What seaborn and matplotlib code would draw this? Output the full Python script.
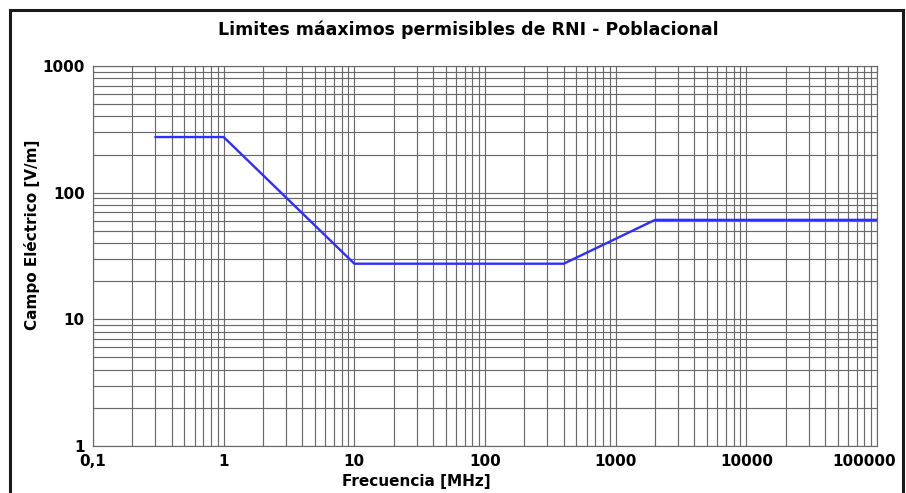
import matplotlib

matplotlib.use("Agg")
import matplotlib.pyplot as plt
import matplotlib.patches as mpatches
from matplotlib.ticker import LogLocator, NullFormatter, FixedLocator
from matplotlib.transforms import ScaledTranslation
import pandas as pd
import seaborn as sns

# Limites RNI poblacional (campo electrico)
frecuencia_mhz = [0.3, 1, 10, 400, 2000, 100000]
campo_v_m = [275, 275, 27.5, 27.5, 61, 61]

x_ticks = [0.1, 1, 10, 100, 1000, 10000, 100000]
x_labels = ["0,1", "1", "10", "100", "1000", "10000", "100000"]
y_ticks = [1, 10, 100, 1000]
y_labels = ["1", "10", "100", "1000"]


def main() -> None:
    sns.set_style("white")
    plt.rcParams["font.family"] = ["DejaVu Sans"]
    plt.rcParams["text.color"] = "black"
    plt.rcParams["axes.labelcolor"] = "black"
    plt.rcParams["xtick.labelcolor"] = "black"
    plt.rcParams["ytick.labelcolor"] = "black"

    df = pd.DataFrame({"f": frecuencia_mhz, "E": campo_v_m})

    fig = plt.figure(figsize=(9.06, 4.93), dpi=100)
    ax = fig.add_axes([0.1026, 0.0953, 0.8655, 0.7708])

    # marco exterior de la figura
    fig.patches.append(
        mpatches.Rectangle((0.0105, -0.1), 0.986, 1.08, transform=fig.transFigure,
                           fill=False, edgecolor="#1a1a1a", linewidth=2.2)
    )

    sns.lineplot(data=df, x="f", y="E", ax=ax, color="#2e2eff", linewidth=1.7)

    ax.set_xscale("log")
    ax.set_yscale("log")
    ax.set_xlim(0.1, 100000)
    ax.set_ylim(1, 1000)

    ax.xaxis.set_major_locator(FixedLocator(x_ticks))
    ax.set_xticklabels(x_labels)
    ax.yaxis.set_major_locator(FixedLocator(y_ticks))
    ax.set_yticklabels(y_labels)
    ax.xaxis.set_minor_locator(LogLocator(base=10, subs=range(2, 10), numticks=20))
    ax.yaxis.set_minor_locator(LogLocator(base=10, subs=range(2, 10), numticks=20))
    ax.xaxis.set_minor_formatter(NullFormatter())
    ax.yaxis.set_minor_formatter(NullFormatter())

    ax.grid(which="both", color="#6a6a6a", linewidth=0.85)
    for s in ax.spines.values():
        s.set_color("#6a6a6a")
        s.set_linewidth(0.85)

    ax.tick_params(axis="both", which="major", length=4, width=0.85, color="#6a6a6a",
                   labelcolor="black", labelsize=11, pad=2)
    ax.tick_params(axis="both", which="minor", length=0)
    for lab in ax.get_xticklabels() + ax.get_yticklabels():
        lab.set_fontweight("bold")
    # la ultima etiqueta queda desplazada para no salirse del marco
    last = ax.get_xticklabels()[-1]
    last.set_transform(last.get_transform() + ScaledTranslation(-0.13, 0, fig.dpi_scale_trans))

    ax.set_xlabel("Frecuencia [MHz]", fontsize=11, fontweight="bold", color="black")
    ax.xaxis.set_label_coords(0.412, -0.074)
    ax.set_ylabel("Campo Eléctrico [V/m]", fontsize=11, fontweight="bold", color="black")
    ax.yaxis.set_label_coords(-0.068, 0.555)
    fig.text(468 / 906, 1 - 30 / 493, "Limites máaximos permisibles de RNI - Poblacional",
             ha="center", va="center", fontsize=12.5, fontweight="bold", color="black")

    fig.savefig("out.png", dpi=100)
    plt.close(fig)


if __name__ == "__main__":
    main()
